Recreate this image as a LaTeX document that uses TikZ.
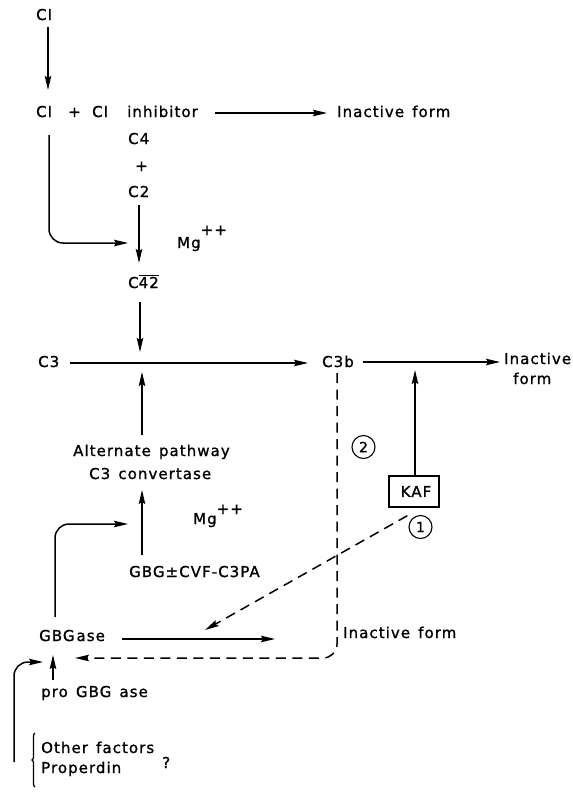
\documentclass[tikz,border=0pt]{standalone}
\usepackage{fontspec}
\setmainfont{DejaVu Sans}[LetterSpace=7,WordSpace=1.4,FakeBold=1.2]
\usetikzlibrary{arrows.meta,calc,decorations.pathreplacing}
\begin{document}
\begin{tikzpicture}[x=1pt,y=-1pt,
  txt/.style={inner sep=0pt,anchor=base west,font=\fontsize{15}{18}\selectfont},
  arr/.style={line width=1.5pt,-{Stealth[length=14pt,width=6.5pt,inset=2pt]}},
  dsh/.style={arr,dash pattern=on 10pt off 6.5pt},
  num/.style={circle,draw,line width=1.1pt,minimum size=23pt,inner sep=0pt,font=\fontsize{14}{16}\selectfont},
  boxed/.style={draw,line width=1.4pt,minimum width=50pt,minimum height=31pt,inner sep=0pt,font=\fontsize{15}{18}\selectfont}]
\useasboundingbox (0,0) rectangle (573,798);
% texts
\node[txt] (c1) at (36,20) {CI};
\node[txt] (c1inh) at (36,117) {\makebox[32pt][l]{CI}\makebox[24pt][l]{+}\makebox[35pt][l]{CI}inhibitor};
\node[txt] (inact1) at (337,117) {Inactive form};
\node[txt] (c4) at (128,144) {C4};
\node[txt] (plus) at (135,171) {+};
\node[txt] (c2) at (128,197) {C2};
\node[txt] (mg1) at (177,248) {Mg\raisebox{13pt}{++}};
\node[txt] (c42) at (128,288) {C$\overline{\hbox{42}}$};
\node[txt] (c3) at (38,367) {C3};
\node[txt] (c3b) at (322,367) {C3b};
\node[txt] (inact2) at (504,364) {Inactive};
\node[txt] (form2) at (513,384) {form};
\node[txt] (alt1) at (73,456) {Alternate pathway};
\node[txt] (alt2) at (89,479) {C3 convertase};
\node[txt] (mg2) at (193,524) {Mg\raisebox{10pt}{++}};
\node[txt] (gbg) at (129,577) {GBG±CVF-C3PA};
\node[txt] (gbgase) at (39,641) {GBG\hspace{2pt}ase};
\node[txt] (inact3) at (343,638) {Inactive form};
\node[txt] (progbg) at (41,697) {pro GBG ase};
\node[txt] (other) at (41,753) {Other factors};
\node[txt] (prop) at (41,773) {Properdin};
\node[txt] (q) at (162,768) {?};
\node[boxed] (kaf) at (414,491.5) {\hspace{4pt}KAF};
\node[num] (two) at (363.5,447) {2};
\node[num] (one) at (420.5,527) {1};
% connectors
\draw[arr] ($(c1.base west)+(12,7)$) -- ($(c1inh.base west)+(12,-27)$);
\draw[arr] ($(c1inh.base west)+(179,-4)$) -- ($(inact1.base west)+(-10,-4)$);
\draw[arr,rounded corners=14pt] ($(c1inh.base west)+(13,18)$) |- ($(c42.base west)+(0,-45)$);
\draw[arr] ($(c2.base west)+(11,8)$) -- ($(c42.base west)+(11,-25)$);
\draw[arr] ($(c42.base west)+(12,14)$) -- ($(c3.base west)+(102,-15)$);
\draw[arr] ($(c3.base west)+(32,-4)$) -- ($(c3b.base west)+(-14,-4)$);
\draw[arr] ($(alt1.base west)+(69,-21)$) -- ($(c3.base west)+(104,5)$);
\draw[arr] ($(gbg.base west)+(13,-22)$) -- ($(alt2.base west)+(53,11)$);
\draw[arr,rounded corners=14pt] ($(gbgase.base west)+(16,-24)$) |- ($(alt2.base west)+(39,45)$);
\draw[arr] ($(c3b.base west)+(41,-5)$) -- ($(inact2.base west)+(-4,-2)$);
\draw[arr] ($(kaf.north)+(1,0)$) -- ($(c3b.base west)+(93,3)$);
\draw[arr] ($(gbgase.base west)+(83,-2)$) -- ($(gbgase.base west)+(236,-2)$);
\draw[dsh] ($(kaf.south west)+(19,8)$) -- ($(gbgase.base west)+(166,-11)$);
\draw[dsh,rounded corners=14pt] ($(c3b.base west)+(15,6)$) |- ($(gbgase.base west)+(36,17)$);
\draw[arr] ($(progbg.base west)+(12,-17)$) -- ($(gbgase.base west)+(14,14)$);
\draw[arr,rounded corners=14pt] ($(other.base west)+(-27,9)$) |- ($(gbgase.base west)+(4,21)$);
\draw[line width=1.3pt,decorate,decoration={brace,amplitude=3pt}] ($(other.base west)+(-6,34)$) -- ($(other.base west)+(-6,-20)$);
\end{tikzpicture}
\end{document}
